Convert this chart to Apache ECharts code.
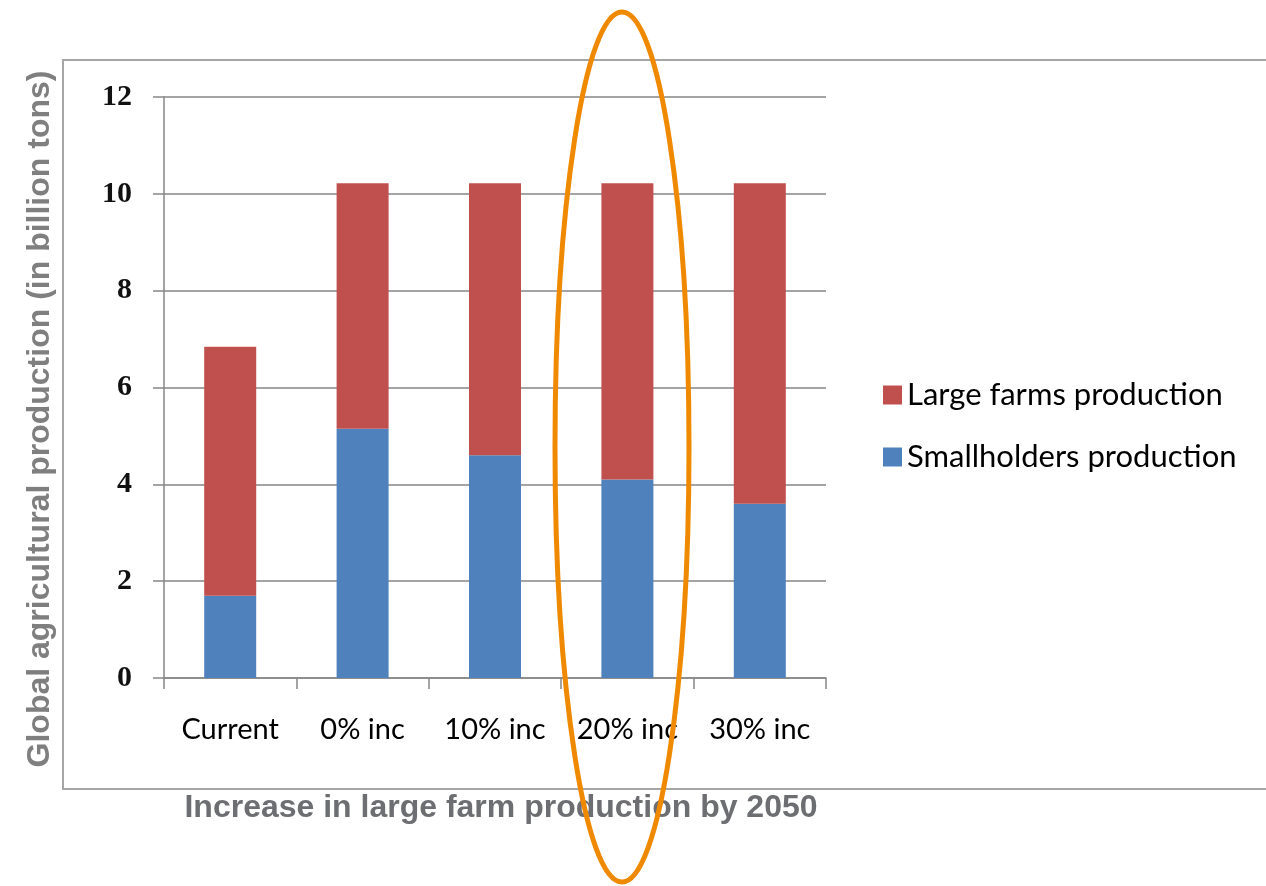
<!DOCTYPE html>
<html>
<head>
<meta charset="utf-8">
<script src="https://cdn.jsdelivr.net/npm/echarts@6/dist/echarts.min.js"></script>
<style>
  html, body { margin: 0; padding: 0; background: #ffffff; }
  #chart { width: 1266px; height: 886px; }
</style>
</head>
<body>
<div id="chart"></div>
<script>
// Scenario categories along the x axis
const categories = ['Current', '0% inc', '10% inc', '20% inc', '30% inc'];
// Production by smallholders (billion tons)
const smallholders = [1.7, 5.15, 4.6, 4.1, 3.6];
// Production by large farms (billion tons), stacked on top
const largeFarms = [5.14, 5.07, 5.62, 6.12, 6.62];
// Value axis range
const yMin = 0, yMax = 12, yStep = 2;

const chart = echarts.init(document.getElementById('chart'), null, { renderer: 'canvas' });

const gridLeft = 164, gridRight = 440, gridTop = 97, gridBottom = 208;

chart.setOption({
  animation: false,
  backgroundColor: '#ffffff',
  grid: { left: gridLeft, right: gridRight, top: gridTop, bottom: gridBottom, containLabel: false },
  legend: {
    orient: 'vertical',
    left: 878,
    top: 373,
    itemWidth: 19,
    itemHeight: 19,
    itemGap: 28,
    icon: 'rect',
    data: ['Large farms production', 'Smallholders production'],
    textStyle: { fontFamily: 'Lato', fontSize: 31, color: '#000000', lineHeight: 34 }
  },
  xAxis: {
    type: 'category',
    data: categories,
    axisLine: { lineStyle: { color: '#868686', width: 1.5 } },
    axisTick: { show: true, interval: 0, length: 11, lineStyle: { color: '#868686', width: 1.5 } },
    axisLabel: { interval: 0, hideOverlap: false, margin: 37, fontFamily: 'Lato', fontSize: 29, color: '#000000' }
  },
  yAxis: {
    type: 'value',
    min: yMin, max: yMax, interval: yStep,
    axisLine: { show: true, lineStyle: { color: '#868686', width: 1.5 } },
    axisTick: { show: true, length: 11, lineStyle: { color: '#868686', width: 1.5 } },
    splitLine: { lineStyle: { color: '#868686', width: 1.5 } },
    axisLabel: { margin: 32, fontFamily: 'Liberation Serif', fontWeight: 'bold', fontSize: 30, color: '#111111' }
  },
  series: [
    {
      name: 'Smallholders production',
      type: 'bar', stack: 'total', barWidth: 52,
      itemStyle: { color: '#4f81bd' },
      data: smallholders
    },
    {
      name: 'Large farms production',
      type: 'bar', stack: 'total', barWidth: 52,
      itemStyle: { color: '#c0504d' },
      data: largeFarms
    }
  ],
  graphic: [
    {
      type: 'rect', silent: true, z: -1,
      shape: { x: 63, y: 60, width: 1260, height: 729 },
      style: { fill: 'none', stroke: '#a6a6a6', lineWidth: 2 }
    },
    {
      type: 'text', silent: true,
      x: 40, y: 419, rotation: Math.PI / 2,
      style: {
        text: 'Global agricultural production (in billion tons)',
        fontFamily: 'Liberation Sans', fontWeight: 'bold', fontSize: 32,
        fill: '#7f7f7f', textAlign: 'center', textVerticalAlign: 'middle'
      }
    },
    {
      type: 'text', silent: true,
      x: 501, y: 808,
      style: {
        text: 'Increase in large farm production by 2050',
        fontFamily: 'Liberation Sans', fontWeight: 'bold', fontSize: 32,
        fill: '#6d6e71', textAlign: 'center', textVerticalAlign: 'middle'
      }
    },
    {
      type: 'ellipse', silent: true, z: 100,
      shape: { cx: 622, cy: 447, rx: 67, ry: 435 },
      style: { fill: 'none', stroke: '#ef8a00', lineWidth: 5 }
    }
  ]
});
</script>
</body>
</html>
